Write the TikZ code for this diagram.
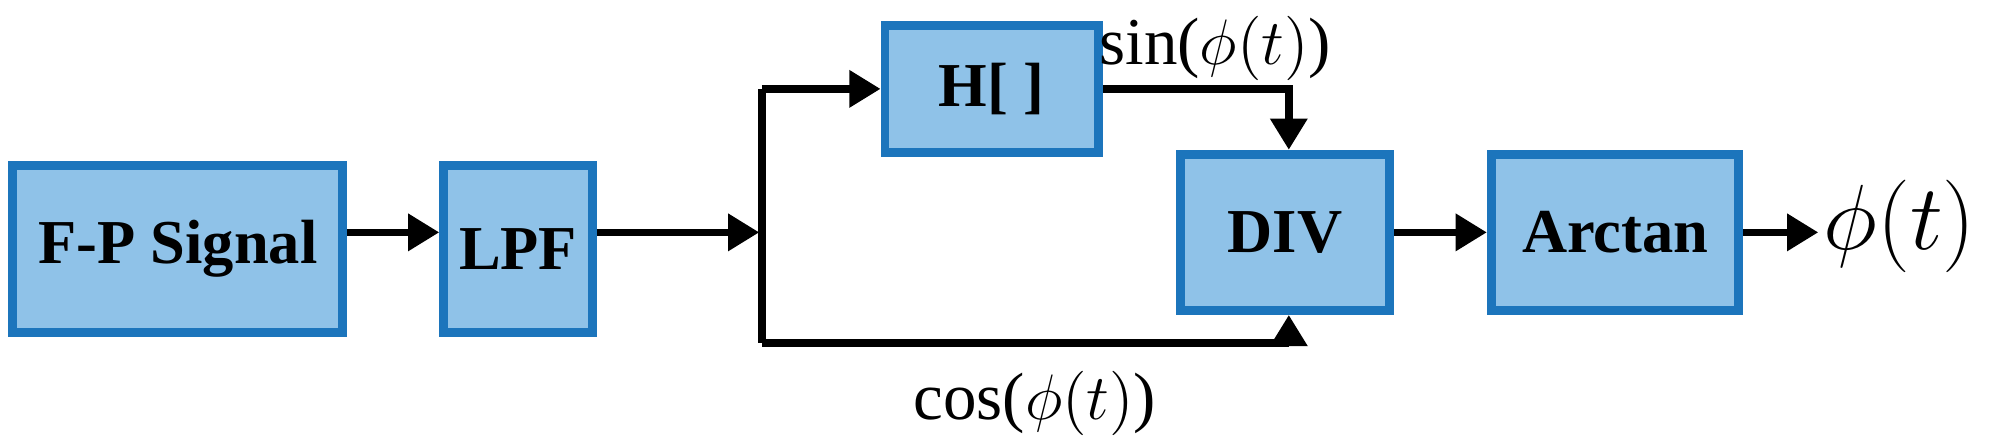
\documentclass[tikz,border=0pt]{standalone}
\usepackage{fontspec}
\setmainfont{Liberation Serif}
\usetikzlibrary{positioning}
\usetikzlibrary{arrows.meta}
\definecolor{boxfill}{RGB}{143,194,232}
\definecolor{boxline}{RGB}{28,117,188}
\tikzstyle{block} = [draw=boxline,fill=boxfill,line width=2pt,font=\fontsize{14}{17}\selectfont\bfseries,inner sep=0pt]
\tikzstyle{arrow} = [line width=1.7pt,-{Triangle[length=7pt,width=8pt]}]
\tikzstyle{lbl} = [font=\fontsize{15}{18}\selectfont]

\begin{document}
\begin{tikzpicture}[x=0.1mm,y=-0.1mm]
	\useasboundingbox (0,0) rectangle (1568,352);
	\node[block,minimum width=26mm,minimum height=13.2mm] (fp) at (140,196) {F-P Signal};
	\node[block,minimum width=11.7mm,minimum height=13.2mm] (lpf) at (408,196) {LPF};
	\node[block,minimum width=16.8mm,minimum height=10mm] (h) at (781,70) {H[ ]};
	\node[block,minimum width=16.5mm,minimum height=12.3mm] (div) at (1012,183) {DIV};
	\node[block,minimum width=19.5mm,minimum height=12.3mm] (atan) at (1272,183) {Arctan};
	\node[font=\fontsize{21}{25}\selectfont,anchor=west,inner sep=1pt] (out) at (1432,178) {$\phi(t)$};
	\coordinate (split) at (598,183);
	\coordinate (top) at (600,70);
	\coordinate (bot) at (600,270);
	\coordinate (sinc) at (1015,70);
	\coordinate (cosc) at (1015,270);
	\draw[arrow] (fp.east |- split) -- (lpf.west |- split);
	\draw[arrow] (lpf.east |- split) -- (split);
	\draw[line width=1.7pt] (top) -- (bot);
	\draw[arrow] (top) -- (h.west);
	\draw[arrow] (h.east) -- (sinc) -- (sinc |- div.north);
	\draw[arrow] (bot) -- (cosc) -- (cosc |- div.south);
	\draw[arrow] (div.east) -- (atan.west);
	\draw[arrow] (atan.east) -- (out.west |- atan.east);
	\node[lbl] (sinl) at (957,38) {sin($\phi(t)$)};
	\node[lbl] (cosl) at (815,318) {cos($\phi(t)$)};
\end{tikzpicture}
\end{document}
